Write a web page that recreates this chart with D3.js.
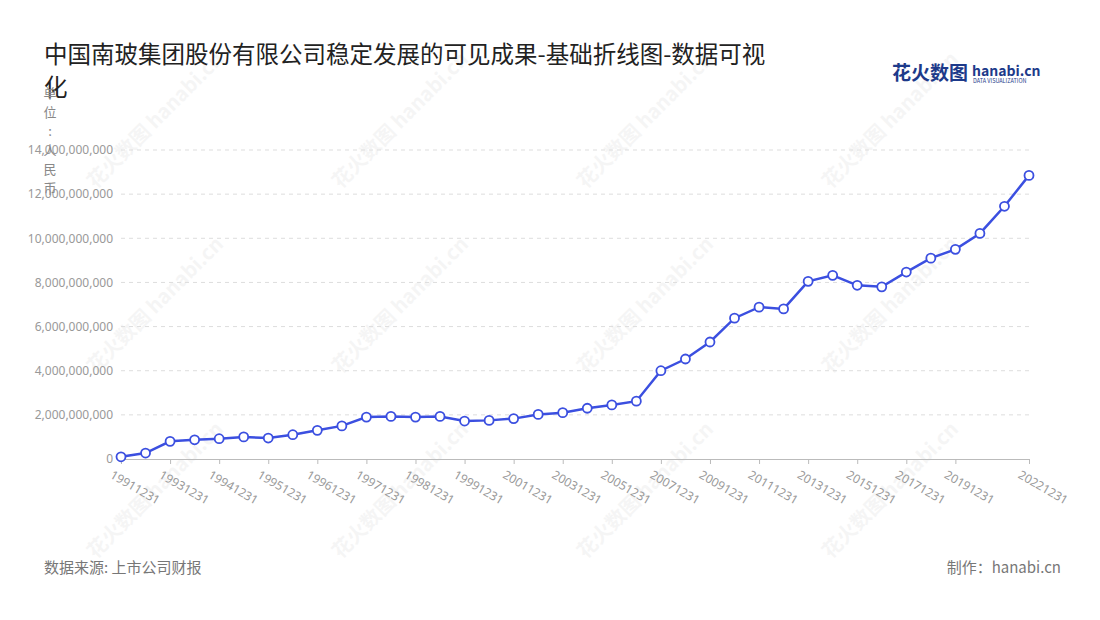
<!DOCTYPE html>
<html><head><meta charset="utf-8">
<script src="https://cdn.jsdelivr.net/npm/d3@7"></script>
<style>body{margin:0;background:#fff;font-family:"Noto Sans CJK SC","Noto Sans",sans-serif}</style>
</head><body><svg id="c" width="1100" height="620"></svg>
<script>
const dates = ["19911231","19921231","19931231","19940630","19941231","19950630","19951231","19960630","19961231","19970630","19971231","19980630","19981231","19990630","19991231","20001231","20011231","20021231","20031231","20041231","20051231","20061231","20071231","20081231","20091231","20101231","20111231","20121231","20131231","20141231","20151231","20161231","20171231","20181231","20191231","20201231","20211231","20221231"];
const values = [0.1,0.27,0.8,0.87,0.92,1.0,0.95,1.1,1.3,1.5,1.9,1.93,1.9,1.93,1.72,1.75,1.83,2.02,2.1,2.3,2.45,2.62,4.0,4.53,5.3,6.38,6.88,6.8,8.05,8.32,7.87,7.8,8.47,9.1,9.5,10.22,11.45,12.85].map(v => v * 1e9);
const yTicks = [0,2e9,4e9,6e9,8e9,10e9,12e9,14e9];

const svg = d3.select("#c");
const x = d3.scalePoint().domain(dates).range([121, 1029]);
const y = d3.scaleLinear().domain([0, 14e9]).range([459, 150]);

// watermarks
for (let gx of [160, 405, 650, 895]) for (let gy of [125, 310, 495]) {
  svg.append("text").attr("transform", `translate(${gx},${gy}) rotate(-45)`)
    .attr("text-anchor","middle").attr("fill","#000").attr("opacity",0.035)
    .attr("font-size",20).attr("font-weight","bold").text("花火数图 hanabi.cn");
}

svg.append("text").attr("x",44).attr("y",63).attr("font-size",23.5).attr("fill","#222").text("中国南玻集团股份有限公司稳定发展的可见成果-基础折线图-数据可视");
svg.append("text").attr("x",44).attr("y",96).attr("font-size",23.5).attr("fill","#222").text("化");

// logo
svg.append("text").attr("x",892).attr("y",80).attr("font-size",19).attr("font-weight","bold").attr("fill","#1d3a8a").text("花火数图");
svg.append("text").attr("x",972).attr("y",76).attr("font-size",14).attr("font-weight","bold").attr("fill","#1d3a8a").text("hanabi.cn");
svg.append("text").attr("x",973).attr("y",83).attr("font-size",5.5).attr("fill","#1d3a8a").text("DATA VISUALIZATION");

// grid
svg.append("g").selectAll("line").data(yTicks.slice(1)).join("line")
  .attr("x1",121).attr("x2",1029).attr("y1",d=>y(d)).attr("y2",d=>y(d))
  .attr("stroke","#ddd").attr("stroke-dasharray","4,4");

const ya = svg.append("g").attr("transform","translate(121,0)")
  .call(d3.axisLeft(y).tickValues(yTicks).tickFormat(d3.format(",")).tickSize(0).tickPadding(8));
ya.select(".domain").remove();
ya.selectAll("text").attr("fill","#999").attr("font-size",12).attr("font-family","Noto Sans");

const shown = dates.filter((d,i)=> (i%2===0 && i!==36) || i===dates.length-1);
const xa = svg.append("g").attr("transform","translate(0,459)")
  .call(d3.axisBottom(x).tickValues(shown).tickSize(5));
xa.select(".domain").attr("stroke","#bbb");
xa.selectAll("line").attr("stroke","#bbb");
xa.selectAll("text").attr("fill","#999").attr("font-size",12).attr("font-family","Noto Sans")
  .attr("text-anchor","start").attr("transform","translate(-4,4) rotate(30)");

// y axis name vertical
const yname = "单位：人民币".split("");
svg.append("g").selectAll("text").data(yname).join("text")
  .attr("x",50).attr("y",(d,i)=>98+i*19).attr("text-anchor","middle")
  .attr("font-size",13).attr("fill","#888").text(d=>d==="："?":":d);

const line = d3.line().x((d,i)=>x(dates[i])).y(d=>y(d));
svg.append("path").datum(values).attr("d",line).attr("fill","none").attr("stroke","#3b4fe0").attr("stroke-width",2.5);
svg.append("g").selectAll("circle").data(values).join("circle")
  .attr("cx",(d,i)=>x(dates[i])).attr("cy",d=>y(d)).attr("r",4.5)
  .attr("fill","#fff").attr("stroke","#3b4fe0").attr("stroke-width",1.8);

svg.append("text").attr("x",44).attr("y",573).attr("font-size",15).attr("fill","#777").text("数据来源: 上市公司财报");
svg.append("text").attr("x",1061).attr("y",573).attr("text-anchor","end").attr("font-size",15).attr("fill","#777").text("制作：hanabi.cn");
</script></body></html>
